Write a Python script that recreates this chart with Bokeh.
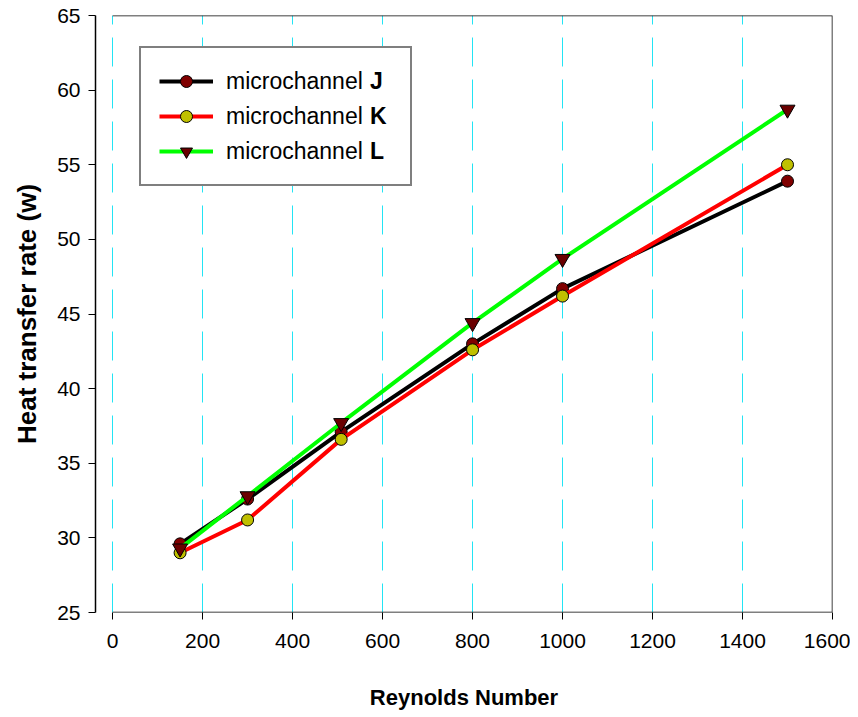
from bokeh.plotting import figure
from bokeh.models import Range1d, FixedTicker, Legend, LegendItem
from bokeh.embed import file_html
from bokeh.resources import INLINE

# ---- data ----
reynolds = [150, 300, 508, 800, 1000, 1500]
heat_J = [29.6, 32.6, 37.1, 43.0, 46.7, 53.9]
heat_K = [29.0, 31.2, 36.6, 42.6, 46.2, 55.0]
heat_L = [29.3, 32.8, 37.7, 44.4, 48.7, 58.7]
x_ticks = [0, 200, 400, 600, 800, 1000, 1200, 1400, 1600]
y_ticks = [25, 30, 35, 40, 45, 50, 55, 60, 65]
series_names = ["microchannel", "microchannel", "microchannel"]
series_letters = ["J", "K", "L"]

XMIN, XMAX, YMIN, YMAX = 0, 1600, 25, 65
FONT = "Liberation Sans"

p = figure(width=850, height=712, output_backend="svg", toolbar_location=None,
           x_range=Range1d(-38, XMAX), y_range=Range1d(YMIN, YMAX),
           min_border_left=95, min_border_top=15, min_border_right=18, min_border_bottom=96)
p.outline_line_color = None
p.background_fill_color = "white"
p.border_fill_color = "white"

# grid
p.ygrid.grid_line_color = None
p.xgrid.ticker = FixedTicker(ticks=x_ticks)
p.xgrid.grid_line_color = "#22e4f4"
p.xgrid.grid_line_width = 1
p.xgrid.grid_line_dash = "29 13"

# axes
for ax in (p.xaxis[0], p.yaxis[0]):
    ax.major_tick_out = 7
    ax.major_tick_in = 0
    ax.minor_tick_out = 0
    ax.minor_tick_in = 0
    ax.major_tick_line_color = "black"
    ax.major_tick_line_width = 1
    ax.major_label_text_font = FONT
    ax.major_label_text_font_size = "21px"
    ax.major_label_text_color = "black"
    ax.axis_label_text_font = FONT
    ax.axis_label_text_font_style = "bold"
    ax.axis_label_text_color = "black"

p.xaxis.ticker = FixedTicker(ticks=x_ticks)
p.yaxis.ticker = FixedTicker(ticks=y_ticks)
p.xaxis.axis_line_color = None
p.yaxis.axis_line_color = "black"
p.yaxis.axis_line_width = 1.5
p.xaxis.major_label_standoff = 14
p.yaxis.major_label_standoff = 8
p.xaxis.axis_label = "Reynolds Number"
p.yaxis.axis_label = "Heat transfer rate (w)"
p.xaxis.axis_label_text_font_size = "22px"
p.yaxis.axis_label_text_font_size = "26px"
p.xaxis.axis_label_standoff = 34
p.yaxis.axis_label_standoff = 12

# frame (top, right, bottom)
p.line(x=[XMIN, XMAX, XMAX, XMIN], y=[YMAX, YMAX, YMIN, YMIN], line_color="black", line_width=1.5)

# series
lJ = p.line(reynolds, heat_J, line_color="black", line_width=4)
mJ = p.scatter(reynolds, heat_J, marker="circle", size=12, fill_color="#800000", line_color="black", line_width=1)
lK = p.line(reynolds, heat_K, line_color="#ff0000", line_width=4)
mK = p.scatter(reynolds, heat_K, marker="circle", size=12, fill_color="#c0c000", line_color="black", line_width=1)
lL = p.line(reynolds, heat_L, line_color="#00ff00", line_width=4)
mL = p.scatter(reynolds, heat_L, marker="inverted_triangle", size=15, fill_color="#6a0000", line_color="black", line_width=1)
series_renderers = [[lJ, mJ], [lK, mK], [lL, mL]]

def style_legend(lg, weight, glyph_w, standoff):
    lg.padding = 18
    lg.spacing = 5
    lg.glyph_width = glyph_w
    lg.glyph_height = 30
    lg.label_height = 30
    lg.label_standoff = standoff
    lg.label_text_font = FONT
    lg.label_text_font_size = "23px"
    lg.label_text_font_style = weight
    lg.label_text_color = "black"
    lg.margin = 0

legend = Legend(items=[LegendItem(label=n, renderers=r) for n, r in zip(series_names, series_renderers)],
                location=(44, 426))
style_legend(legend, "normal", 54, 13)
legend.label_width = 166
legend.border_line_color = "black"
legend.border_line_width = 2
legend.background_fill_color = "white"
legend.background_fill_alpha = 1
p.add_layout(legend, "center")

# bold series letters, as a glyph-less overlay legend aligned with the rows above
letters = Legend(items=[LegendItem(label=n, renderers=r) for n, r in zip(series_letters, series_renderers)],
                 location=(275, 446))
style_legend(letters, "bold", 0, 0)
letters.border_line_color = None
letters.background_fill_alpha = 0
p.add_layout(letters, "center")

open("out.html", "w").write(file_html(p, INLINE))
